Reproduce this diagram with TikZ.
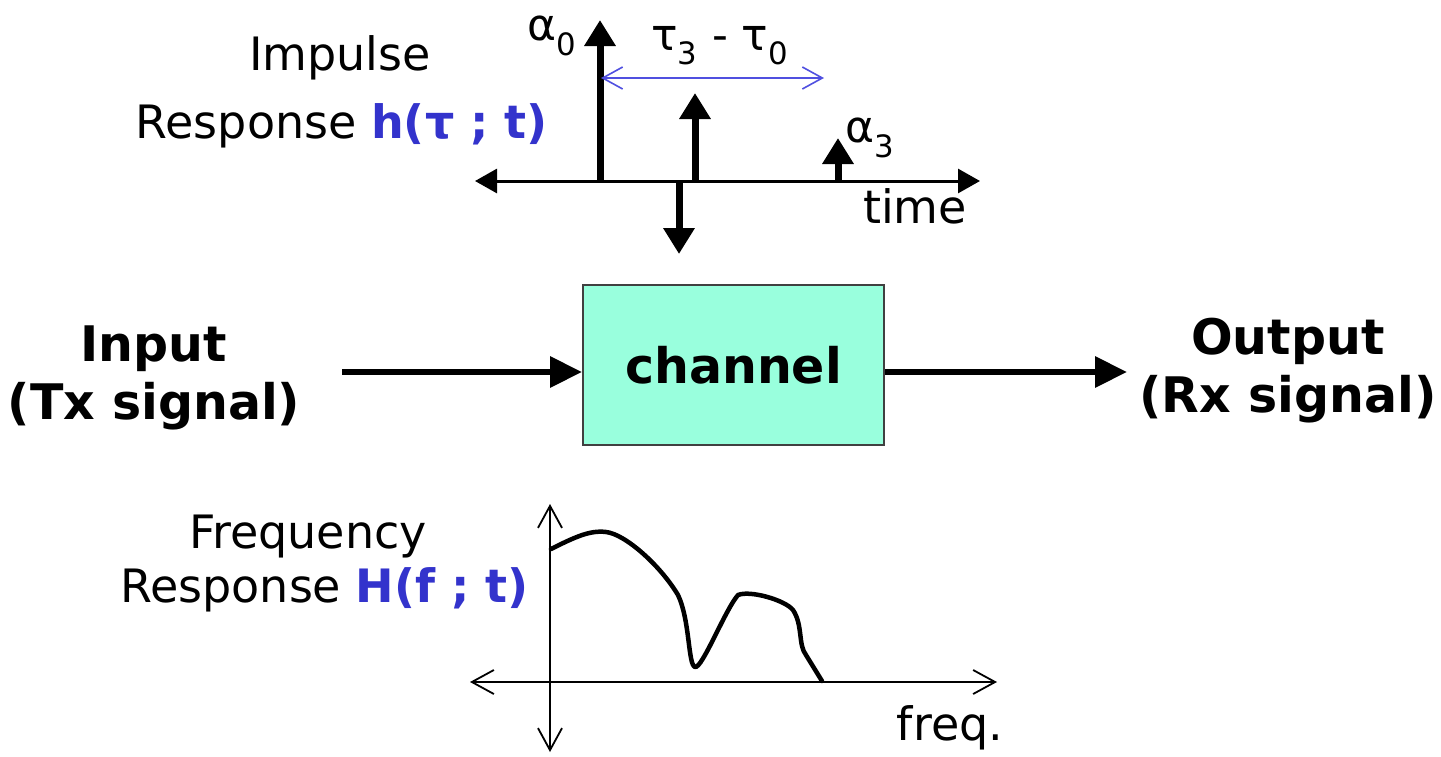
\documentclass[tikz,border=0pt]{standalone}
\usepackage{fontspec}
\setmainfont{DejaVu Sans}
\usetikzlibrary{arrows.meta}
\definecolor{hblue}{HTML}{3333CC}
\definecolor{chfill}{HTML}{99FFDD}
\definecolor{arrblue}{HTML}{5050E0}
\begin{document}
\begin{tikzpicture}[x=1pt,y=-1pt,
  txt/.style={inner sep=0pt,font=\fontsize{46pt}{56pt}\selectfont},
  btxt/.style={inner sep=0pt,align=center,font=\fontsize{49pt}{58pt}\selectfont\bfseries},
  gtxt/.style={inner sep=0pt,font=\fontsize{44pt}{52pt}\selectfont},
  stem/.style={-{Triangle[width=30pt,length=26pt]},line width=7pt},
  taxis/.style={{Triangle[width=24pt,length=22pt]}-{Triangle[width=24pt,length=22pt]},line width=3pt},
  faxis/.style={{Straight Barb[width=24pt,length=22pt,line width=1.8pt]}-{Straight Barb[width=24pt,length=22pt,line width=1.8pt]},line width=2pt},
  bluearr/.style={{Straight Barb[width=22pt,length=20pt,line width=1.6pt]}-{Straight Barb[width=22pt,length=20pt,line width=1.6pt]},line width=1.8pt,draw=arrblue},
  flow/.style={-{Triangle[width=30pt,length=32pt]},line width=6.5pt},
  chbox/.style={draw=black!75,line width=2pt,fill=chfill,minimum width=301pt,minimum height=160pt,inner sep=0pt,
    font=\fontsize{49pt}{58pt}\selectfont\bfseries}
]
\useasboundingbox (0,0) rectangle (1441,756);

% ---------- impulse response ----------
\coordinate (tl) at (475,181);
\coordinate (tr) at (980,181);
\draw[taxis] (tl) -- (tr);
\coordinate (a0b) at (600,181);
\coordinate (a0t) at (600,20);
\coordinate (a1b) at (695,181);
\coordinate (a1t) at (695,93);
\coordinate (a3b) at (838,181);
\coordinate (a3t) at (838,138);
\coordinate (dnt) at (679,181);
\coordinate (dnb) at (679,254);
\draw[stem] (a0b) -- (a0t);
\draw[stem] (a1b) -- (a1t);
\draw[stem] (a3b) -- (a3t);
\draw[stem] (dnt) -- (dnb);
\coordinate (bl) at (601,78);
\coordinate (br) at (824,78);
\draw[bluearr] (bl) -- (br);

\node[gtxt] (a0) at (552,36) {α\textsubscript{0}};
\node[gtxt] (tau) at (720,46) {τ\textsubscript{3} - τ\textsubscript{0}};
\node[gtxt] (a3) at (870,138) {α\textsubscript{3}};
\node[txt,anchor=base] (time) at (915,223) {time};

\node[txt,anchor=base] (imp) at (340,70) {Impulse};
\node[txt,anchor=base east] (resp) at (548,138) {Response \textbf{\color{hblue}h(τ ; t)}};

% ---------- channel ----------
\node[chbox] (ch) at (733.5,365) {channel};
\node[btxt] (in) at (154,378) {Input\\(Tx signal)};
\node[btxt] (out) at (1288,371) {Output\\(Rx signal)};
\coordinate (inarr) at (342,372);
\coordinate (outarr) at (1127,372);
\draw[flow] (inarr) -- (inarr -| ch.west);
\draw[flow] (outarr -| ch.east) -- (outarr);

% ---------- frequency response ----------
\coordinate (fl) at (470,682);
\coordinate (fr) at (997,682);
\coordinate (fvt) at (550,504);
\coordinate (fvb) at (550,752);
\draw[faxis] (fl) -- (fr);
\draw[faxis] (fvb) -- (fvt);
\draw[line width=4.5pt,line join=round,line cap=round]
  (551,549) .. controls (575,537) and (590,530) .. (606,532)
  .. controls (625,534) and (660,565) .. (678,595)
  .. controls (690,620) and (688,665) .. (695,667)
  .. controls (702,669) and (725,610) .. (738,595)
  .. controls (750,590) and (785,600) .. (793,610)
  .. controls (803,625) and (798,645) .. (806,655)
  -- (822,681);

\node[txt,anchor=base] (freqlab) at (308,548) {Frequency};
\node[txt,anchor=base east] (fresp) at (529,602) {Response \textbf{\color{hblue}H(f ; t)}};
\node[txt,anchor=base] (fq) at (950,740) {freq.};
\end{tikzpicture}
\end{document}
